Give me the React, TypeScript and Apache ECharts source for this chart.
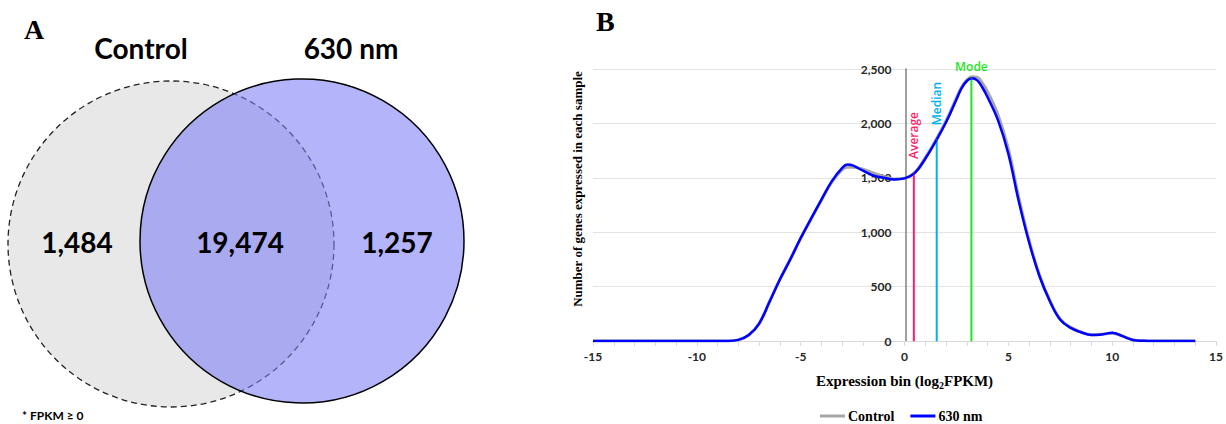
import React, { useEffect, useRef } from "react";
import * as echarts from "echarts";

// ---- Panel B data ----
const binX = [-15, -14, -13, -12, -11, -10, -9, -8.5, -8, -7.5, -7, -6.5, -6, -5.5, -5, -4.5, -4, -3.5, -3, -2.75, -2.5, -2, -1.5, -1, -0.5, 0, 0.5, 1, 1.5, 2, 2.5, 2.75, 3, 3.25, 3.5, 3.75, 4, 4.5, 5, 5.5, 6, 6.5, 7, 7.5, 8, 8.5, 9, 9.5, 10, 10.5, 11, 11.5, 12, 13, 14];
const control = [0, 0, 0, 0, 0, 0, 0, 0, 10, 55, 160, 362, 568, 752, 945, 1122, 1295, 1460, 1575, 1598, 1598, 1580, 1545, 1512, 1490, 1495, 1550, 1685, 1845, 2025, 2235, 2335, 2398, 2428, 2425, 2370, 2290, 2080, 1765, 1320, 925, 605, 370, 200, 125, 82, 58, 62, 72, 45, 10, 2, 0, 0, 0];
const nm630 = [0, 0, 0, 0, 0, 0, 0, 0, 10, 55, 160, 360, 565, 750, 945, 1125, 1300, 1470, 1592, 1622, 1614, 1565, 1520, 1500, 1485, 1495, 1545, 1675, 1835, 2010, 2220, 2325, 2390, 2414, 2395, 2330, 2240, 2030, 1720, 1285, 905, 595, 365, 195, 120, 80, 55, 60, 75, 45, 10, 2, 0, 0, 0];
const seriesNames = ["Control", "630 nm"];
const markerNames = ["Average", "Median", "Mode"];
const markerX = [0.45, 1.55, 3.22];
const markerTop = [1540, 1850, 2414];
const markerColors = ["#ff1f6b", "#00b0f0", "#22e622"];

// ---- Panel A data ----
const vennSets = ["Control", "630 nm"];
const vennCounts = ["1,484", "19,474", "1,257"];
const vennNote = "* FPKM \u2265 0";
const panelLetters = ["A", "B"];

const fmt = (v: number) => v.toLocaleString("en-US");

export default function App() {
  const ref = useRef<HTMLDivElement>(null);
  useEffect(() => {
    document.body.style.margin = "0";
    const chart = echarts.init(ref.current!, null, { renderer: "svg" });
    const sans = "Lato";
    const serif = "Liberation Serif";
    const gridLeft = 593;
    const gridRight = 8;
    const plotW = 1226 - gridLeft - gridRight;
    const xMin = -15;
    const xMax = 15;
    // y axis sits on x = 0: shift it right by the pixel distance of 0 from the left edge
    const yAxisOffset = -((0 - xMin) / (xMax - xMin)) * plotW;

    const markerSeries = markerNames.map((n, i) => ({
      type: "line",
      name: n,
      silent: true,
      symbol: "circle",
      symbolSize: 1,
      itemStyle: { color: markerColors[i] },
      lineStyle: { color: markerColors[i], width: 2 },
      data: [
        [markerX[i], 0],
        {
          value: [markerX[i], markerTop[i]],
          label: i < 2
            ? {
                show: true,
                formatter: n,
                position: "top",
                distance: 14,
                rotate: 90,
                align: "left",
                verticalAlign: "middle",
                color: markerColors[i],
                fontFamily: "Open Sans",
                fontWeight: 600,
                fontSize: 12,
              }
            : {
                show: true,
                formatter: n,
                position: "top",
                distance: 5,
                color: markerColors[i],
                fontFamily: "Open Sans",
                fontWeight: 600,
                fontSize: 12,
              },
        },
      ],
    }));

    const option: any = {
      animation: false,
      grid: { left: gridLeft, right: gridRight, top: 69, bottom: 83 },
      legend: {
        data: seriesNames,
        left: 815,
        top: 404,
        icon: "rect",
        itemWidth: 25,
        itemHeight: 3,
        itemGap: 16,
        textStyle: { fontFamily: serif, fontWeight: "bold", fontSize: 14, color: "#000", padding: [0, 0, 0, -2] },
      },
      xAxis: {
        type: "value",
        min: xMin,
        max: xMax,
        interval: 5,
        name: "Expression bin (log{s|2}FPKM)",
        nameLocation: "middle",
        nameGap: 31,
        nameTextStyle: {
          fontFamily: serif,
          fontWeight: "bold",
          fontSize: 15,
          color: "#000",
          rich: { s: { fontFamily: serif, fontWeight: "bold", fontSize: 10, padding: [8, 0, 0, 0] } },
        },
        axisLine: { onZero: true, lineStyle: { color: "#d9d9d9", width: 1 } },
        axisTick: { show: true, length: 5, lineStyle: { color: "#d9d9d9" } },
        minorTick: { show: true, splitNumber: 5, length: 5, lineStyle: { color: "#d9d9d9" } },
        splitLine: { show: false },
        axisLabel: { fontFamily: sans, fontWeight: "bold", fontSize: 12, color: "#262626", margin: 9 },
      },
      yAxis: {
        type: "value",
        min: 0,
        max: 2500,
        interval: 500,
        offset: yAxisOffset,
        axisLine: { show: true, onZero: false, lineStyle: { color: "#808080", width: 1.5 } },
        axisTick: { show: false },
        splitLine: { lineStyle: { color: "#e3e3e3", width: 1 } },
        axisLabel: { formatter: fmt, fontFamily: sans, fontWeight: "bold", fontSize: 12, color: "#262626", margin: 14 },
      },
      series: [
        ...markerSeries,
        {
          type: "line",
          name: seriesNames[0],
          smooth: 0.4,
          symbol: "none",
          color: "#a6a6a6",
          lineStyle: { color: "#a6a6a6", width: 3 },
          data: binX.map((x, i) => [x, control[i]]),
        },
        {
          type: "line",
          name: seriesNames[1],
          smooth: 0.4,
          symbol: "none",
          color: "#0000ff",
          lineStyle: { color: "#0000ff", width: 2.5 },
          data: binX.map((x, i) => [x, nm630[i]]),
        },
      ],
      graphic: [
        {
          type: "circle",
          shape: { cx: 171, cy: 244, r: 163 },
          style: { fill: "#e8e8e8", stroke: "#222", lineWidth: 1.3, lineDash: [6, 4] },
          z: 1,
        },
        {
          type: "circle",
          shape: { cx: 302, cy: 241, r: 162 },
          style: { fill: "rgba(125,125,246,0.58)", stroke: "#000", lineWidth: 1.5 },
          z: 2,
        },
        ...vennSets.map((t, i) => ({
          type: "text",
          x: [141, 351][i],
          y: 48,
          z: 5,
          style: { text: t, fontFamily: sans, fontWeight: "bold", fontSize: 28, fill: "#000", align: "center", verticalAlign: "middle" },
        })),
        ...vennCounts.map((t, i) => ({
          type: "text",
          x: [77, 240, 397][i],
          y: 242,
          z: 5,
          style: { text: t, fontFamily: sans, fontWeight: "bold", fontSize: 28, fill: "#000", align: "center", verticalAlign: "middle" },
        })),
        {
          type: "text",
          x: 22,
          y: 415,
          z: 5,
          style: { text: vennNote, fontFamily: sans, fontWeight: "bold", fontSize: 12, fill: "#000", align: "left", verticalAlign: "middle" },
        },
        ...panelLetters.map((t, i) => ({
          type: "text",
          x: [24, 596][i],
          y: [29, 21][i],
          z: 5,
          style: { text: t, fontFamily: serif, fontWeight: "bold", fontSize: 28, fill: "#000", align: "left", verticalAlign: "middle" },
        })),
        {
          type: "text",
          x: 577,
          y: 189,
          rotation: Math.PI / 2,
          z: 5,
          style: {
            text: "Number of genes expressed in each sample",
            fontFamily: serif,
            fontWeight: "bold",
            fontSize: 13,
            fill: "#000",
            align: "center",
            verticalAlign: "middle",
          },
        },
      ],
    };
    chart.setOption(option);
    return () => chart.dispose();
  }, []);
  return <div ref={ref} style={{ width: 1226, height: 424 }} />;
}
